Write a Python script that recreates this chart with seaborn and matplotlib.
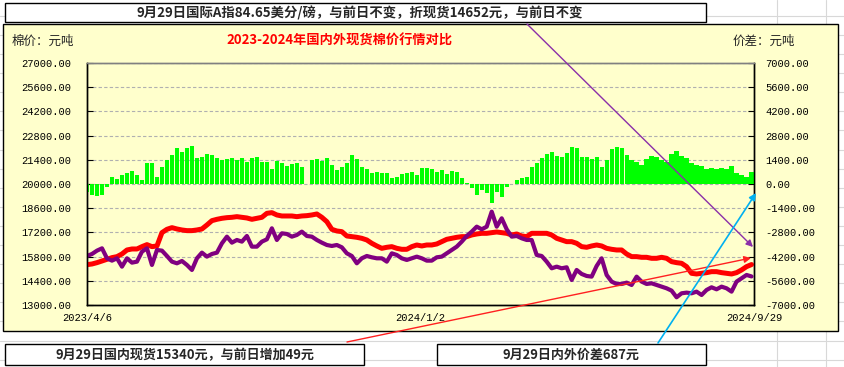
# 2023-2024 国内外现货棉价行情对比
import numpy as np
import pandas as pd
import matplotlib.pyplot as plt
import seaborn as sns
from matplotlib.patches import Rectangle, FancyArrowPatch
from matplotlib.lines import Line2D

sns.set_style('white')
plt.rcParams['font.family'] = ['Noto Sans CJK SC', 'DejaVu Sans']

# sample dates (about every 4 days)
dates = pd.date_range('2023-04-06', '2024-09-27', periods=134)

# 国内现货 (元/吨)
domestic = [15335, 15373, 15450, 15547, 15643, 15740, 15798, 15952, 16183, 16241, 16241, 16376, 16492, 16376,
            16415, 17186, 17379, 17475, 17398, 17340, 17302, 17302, 17340, 17398, 17629, 17880, 17957, 18015,
            18053, 18073, 18111, 18073, 18034, 17957,
            18015, 18073, 18304, 18343, 18208, 18150, 18150, 18150, 18111, 18150, 18169, 18208, 18266, 18073,
            17822, 17379, 17282, 17244, 16993, 16954, 16916, 16858, 16762, 16569, 16415, 16279, 16338, 16376,
            16279, 16222, 16222, 16376, 16472,
            16415, 16472, 16472, 16530, 16665, 16800, 16858, 16916, 16954, 16954, 17051, 17109, 17147, 17147,
            17186, 17224, 17186, 17147, 17051, 17109, 16993, 16954, 17147, 17147, 17147, 17147, 17051, 16858,
            16762, 16665, 16665, 16569, 16376,
            16338, 16415, 16472, 16415, 16279, 16222, 16183, 16183, 15952, 15798, 15798, 15759, 15759, 15701,
            15701, 15759, 15701, 15508, 15450, 15412, 15219, 14833, 14795, 14833, 14872, 14929, 14929, 14872,
            14833, 14795, 14872, 15027, 15219, 15340]

# 国际A指折现货 (元/吨)
overseas = [15836, 15952, 16145, 16279, 15701, 15566, 15701, 15219, 15701, 15450, 15508, 16087, 16279, 15316,
            16183, 16145, 15836, 15508, 15412, 15547, 15316, 15027, 15701, 16029, 15798, 15952, 16029, 16569,
            16954, 16607, 16762, 16665, 16993, 16376,
            16376, 16665, 16800, 17437, 16762, 17147, 17109, 16954, 17051, 17244, 16993, 16954, 16762, 16607,
            16472, 16415, 16472, 16338, 15990, 15836, 15412, 15701, 15836, 15759, 15701, 15701, 15508, 15990,
            15894, 15701, 15605, 15701, 15798,
            15701, 15566, 15566, 15759, 15798, 15990, 16183, 16376, 16665, 16993, 17244, 17533, 17379, 17533,
            18401, 17533, 18015, 17379, 16954, 16993, 16858, 16762, 16762, 15894, 15836, 15508, 15123, 15219,
            15123, 15181, 14448, 15027, 14795,
            14679, 14641, 15258, 15701, 14737, 14352, 14217, 14217, 14294, 14159, 14641, 14352, 14217, 14255,
            14159, 14062, 13966, 13831, 13446, 13677, 13716, 13677, 13773, 13580, 13870, 14024, 13908, 14062,
            13966, 13773, 14352, 14545, 14737, 14652]

# 内外价差 (元/吨)
spread = [-443, -636, -694, -636, -154, 424, 270, 521, 656, 772, 521, 231, 1196, 1235, 424, 1003, 1389, 1678,
          2064, 1871, 2064, 2199, 1485, 1582, 1736, 1678, 1485, 1389, 1427, 1485, 1389, 1485, 1292, 1505,
          1582, 1292, 1292, 849, 1350, 1196, 1042, 1157, 1196, 965, 0, 1389, 1427, 1350, 1485, 1100, 811, 1003,
          1196, 1678, 1427, 1003, 849, 656, 714, 618, 656, 328, 424, 579, 618, 714, 521,
          907, 907, 849, 714, 811, 579, 772, 714, 328, 39, -250, -636, -347, -501, -1090, -443, -733, -193, 0,
          231, 328, 424, 965, 1196, 1485, 1736, 1871, 1620, 1543, 1775, 2160, 2064, 1582,
          1582, 1427, 1582, 965, 1389, 2006, 2160, 2064, 1678, 1389, 1292, 1100, 1427, 1620, 1582, 1389, 1292,
          1736, 1929, 1620, 1485, 1196, 1100, 1042, 849, 907, 849, 907, 849, 1042, 656, 521, 424, 687]

x_ticks = ['2023-04-06', '2024-01-02', '2024-09-29']
x_labels = ['2023/4/6', '2024/1/2', '2024/9/29']

start = pd.Timestamp('2023-04-06')
day = ((dates - start) / pd.Timedelta(days=1)).values
tick_days = [(pd.Timestamp(d) - start).days for d in x_ticks]

W, H = 844, 367
fig = plt.figure(figsize=(W / 100, H / 100), dpi=100)
fig.patch.set_facecolor('white')


def px(x, y):
    return (x / W, 1 - y / H)


# spreadsheet cell lines behind everything
for i in range(19):
    y = 15.8 + 19.1 * i
    fig.add_artist(Line2D([0, 1], [1 - y / H] * 2, color='#D8D8D8', lw=0.8, zorder=-5))
for x in [777, 826]:
    fig.add_artist(Line2D([x / W] * 2, [0, 1], color='#D8D8D8', lw=0.8, zorder=-5))

# chart area
fig.add_artist(Rectangle(px(3, 331), 835 / W, 307 / H, transform=fig.transFigure,
                         facecolor='#FFFFCC', edgecolor='black', lw=1.0, zorder=-2))

# info boxes
fig.add_artist(Rectangle(px(5, 22), 701 / W, 19 / H, transform=fig.transFigure,
                         facecolor='white', edgecolor='black', lw=1.0, zorder=1))
for x0, x1 in [(5, 364), (437, 706)]:
    fig.add_artist(Rectangle(px(x0, 365), (x1 - x0) / W, 21 / H, transform=fig.transFigure,
                             facecolor='white', edgecolor='black', lw=1.0, zorder=1))

ax = fig.add_axes([87 / W, 62 / H, 667 / W, 242 / H])
ax.patch.set_visible(False)
ax2 = ax.twinx()

sns.lineplot(x=day, y=domestic, ax=ax, color='#FF0000', linewidth=3.6, zorder=3)
sns.lineplot(x=day, y=overseas, ax=ax, color='#800080', linewidth=3.0, zorder=4)
sns.barplot(x=day, y=spread, ax=ax2, native_scale=True, errorbar=None, color='#00FF00',
            saturation=1, width=0.85, linewidth=0)

ax.set_xlim(0, tick_days[-1])
ax.set_ylim(13000, 27000)
ax2.set_ylim(-7000, 7000)
ax.set_yticks(np.arange(13000, 27001, 1400))
ax2.set_yticks(np.arange(-7000, 7001, 1400))
ax.set_xticks(tick_days)
ax.set_xticklabels(x_labels)
ax.set_yticklabels([f'{v:.2f}' for v in ax.get_yticks()])
ax2.set_yticklabels([f'{v:.2f}' for v in ax2.get_yticks()])
ax.set_xlabel('')
ax.set_ylabel('')
ax2.set_ylabel('')
ax2.set_xlabel('')

ax.yaxis.grid(True, color='#B0B0B0', linestyle=(0, (3, 2)), linewidth=0.8)
ax.xaxis.grid(False)
ax2.grid(False)

ax.tick_params(axis='y', direction='in', length=4, pad=11.5, colors='black')
ax2.tick_params(axis='y', direction='in', length=4, pad=8, colors='black')
ax.tick_params(axis='x', direction='in', length=5, pad=5.5, colors='black')
for lab in ax.get_yticklabels() + ax2.get_yticklabels() + ax.get_xticklabels():
    lab.set_fontfamily('Liberation Mono')
    lab.set_fontsize(7.5)

for a in (ax, ax2):
    for s in a.spines.values():
        s.set_color('black')
        s.set_linewidth(1.0)
    a.spines['top'].set_color('#808080')

# texts
fig.text(*px(360, 13), '9月29日国际A指84.65美分/磅，与前日不变，折现货14652元，与前日不变',
         ha='center', va='center', fontsize=9.6, fontweight='bold', zorder=3)
fig.text(*px(12, 41), '棉价：元吨', ha='left', va='center', fontsize=9)
fig.text(*px(340, 41), '2023-2024年国内外现货棉价行情对比', ha='center', va='center',
         fontsize=9.5, fontweight='bold', color='#FF0000')
fig.text(*px(733, 41), '价差：元吨', ha='left', va='center', fontsize=9)
fig.text(*px(185, 355), '9月29日国内现货15340元，与前日增加49元', ha='center', va='center',
         fontsize=9.4, fontweight='bold', zorder=3)
fig.text(*px(571, 355), '9月29日内外价差687元', ha='center', va='center',
         fontsize=9.4, fontweight='bold', zorder=3)

# drawn arrows
for (a, b, c, lw) in [((527, 24), (753, 247), '#8B2FA8', 1.0),
                      ((347, 342), (751, 258), '#FF2020', 1.0),
                      ((658, 343), (756, 193), '#00B0F0', 1.2)]:
    fig.add_artist(FancyArrowPatch(px(*a), px(*b), transform=fig.transFigure,
                                   arrowstyle='-|>,head_length=4,head_width=2',
                                   color=c, lw=lw, zorder=6, shrinkA=0, shrinkB=0))

fig.savefig('out.png', dpi=100)
